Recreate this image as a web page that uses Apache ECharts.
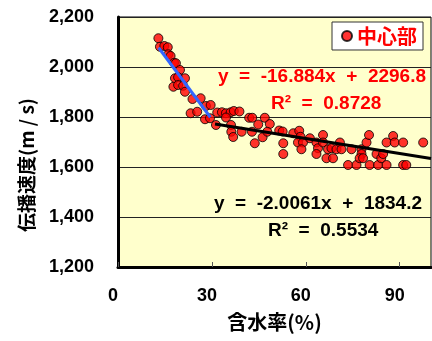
<!DOCTYPE html>
<html>
<head>
<meta charset="utf-8">
<script src="https://cdn.jsdelivr.net/npm/echarts@6/dist/echarts.min.js"></script>
<style>
  html, body { margin: 0; padding: 0; background: #fff; }
  #chart { width: 432px; height: 341px; }
</style>
</head>
<body>
<div id="chart"></div>
<script>
// measured points: [含水率 %, 伝播速度 m/s]
const centerPoints = [
  [12.9, 2115], [13.4, 2081], [14.8, 2084], [15.9, 2079], [16.1, 2051], [16.8, 2044],
  [17.9, 2017], [18.5, 2015], [19.8, 1988], [18.2, 1955], [19.2, 1959], [21.4, 1955],
  [17.7, 1921], [19.2, 1928], [20.8, 1925], [21.4, 1901], [23.8, 1872], [26.4, 1875],
  [28.1, 1844], [29.6, 1848], [23.2, 1815], [25.3, 1821], [27.8, 1791], [29.4, 1795],
  [31.3, 1768], [31.7, 1818], [33.2, 1819], [34.5, 1815], [36.0, 1819], [37.0, 1824],
  [38.8, 1822], [34.5, 1798], [36.1, 1768], [36.2, 1741], [36.8, 1720], [39.5, 1741],
  [41.9, 1797], [42.9, 1797], [44.8, 1770], [46.9, 1797], [48.5, 1772], [42.8, 1741],
  [46.2, 1719], [43.7, 1695], [47.7, 1741], [51.5, 1746], [52.6, 1742], [52.8, 1695],
  [52.8, 1652], [56.0, 1735], [57.9, 1745], [58.3, 1721], [57.5, 1698], [59.1, 1698],
  [58.6, 1671], [61.3, 1715], [63.4, 1698], [63.9, 1675], [63.4, 1652], [65.5, 1728],
  [65.5, 1698], [66.6, 1635], [67.1, 1671], [68.2, 1675], [68.7, 1635], [69.8, 1671],
  [70.9, 1698], [71.4, 1671], [73.5, 1608], [74.6, 1671], [76.2, 1608], [77.8, 1671],
  [77.8, 1652], [77.2, 1635], [78.3, 1635], [79.4, 1698], [80.2, 1728], [80.4, 1608],
  [82.6, 1652], [83.1, 1608], [84.1, 1635], [84.7, 1652], [85.8, 1608], [85.8, 1698],
  [87.9, 1724], [88.4, 1698], [91.1, 1698], [91.1, 1608], [92.1, 1608], [97.5, 1698]
];
// trend lines
const steepTrend = [[13.0, 2077], [29.5, 1799]];
const flatTrend = [[31.0, 1772], [100, 1634]];

const xTicks = [0, 30, 60, 90];
const yTicks = [1200, 1400, 1600, 1800, 2000, 2200];
const seriesName = "中心部";
const xName = "含水率(%)";
const yName = "伝播速度(m / s)";
const eq1 = ["y  =  -16.884x  +  2296.8", "R²  =  0.8728"];
const eq2 = ["y  =  -2.0061x  +  1834.2", "R²  =  0.5534"];

const chart = echarts.init(document.getElementById("chart"));
const font = "Liberation Sans, Arial, sans-serif";
const jpFont = "Noto Sans CJK JP, sans-serif";

const option = {
  animation: false,
  backgroundColor: "#fff",
  grid: {
    left: 118, top: 17, right: 1, bottom: 74,
    show: true, backgroundColor: "#FFFFCC", borderColor: "#000", borderWidth: 1
  },
  legend: {
    data: [seriesName],
    right: 9, top: 22,
    backgroundColor: "#fff",
    borderColor: "#333", borderWidth: 1,
    padding: [4, 6, 4, 9],
    itemWidth: 10, itemHeight: 10, itemGap: 6,
    icon: "circle",
    textStyle: { color: "#FF0000", fontSize: 20, fontWeight: "bold", fontFamily: jpFont }
  },
  xAxis: {
    type: "value",
    min: xTicks[0], max: 100, interval: 30,
    name: xName, nameLocation: "middle", nameGap: 45,
    nameTextStyle: { fontSize: 20, fontWeight: "bold", color: "#000", fontFamily: jpFont },
    axisLine: { lineStyle: { color: "#000", width: 3 } },
    axisTick: { inside: true, length: 5, lineStyle: { color: "#555" } },
    axisLabel: {
      margin: 20, fontSize: 18, fontWeight: "bold", color: "#000", fontFamily: font,
      showMaxLabel: false, padding: [0, 10, 0, 0]
    },
    splitLine: { show: false }
  },
  yAxis: {
    type: "value",
    min: yTicks[0], max: yTicks[yTicks.length - 1], interval: 200,
    name: yName, nameLocation: "middle", nameGap: 82,
    nameTextStyle: {
      fontSize: 19, fontWeight: "bold", color: "#000", fontFamily: jpFont,
      padding: [0, 46, 0, 0]
    },
    axisLine: { lineStyle: { color: "#000", width: 3 } },
    axisTick: { show: false },
    axisLabel: {
      margin: 24, fontSize: 18, fontWeight: "bold", color: "#000", fontFamily: font,
      formatter: (v) => v.toLocaleString("en-US")
    },
    splitLine: { lineStyle: { color: "#222", width: 1 } }
  },
  series: [
    {
      name: seriesName,
      type: "scatter",
      data: centerPoints,
      symbolSize: 9,
      itemStyle: { color: "#FF0000", borderColor: "#000", borderWidth: 1 },
      z: 3
    },
    {
      name: "trend1",
      type: "line",
      data: steepTrend,
      symbol: "none",
      lineStyle: { color: "#3366FF", width: 3 },
      z: 4
    },
    {
      name: "trend2",
      type: "line",
      data: flatTrend,
      symbol: "none",
      lineStyle: { color: "#000", width: 3 },
      z: 4
    }
  ],
  graphic: [
    { type: "text", right: 6, top: 67,
      style: { text: eq1[0], fill: "#FF0000", font: "bold 19px " + font } },
    { type: "text", left: 271, top: 94,
      style: { text: eq1[1], fill: "#FF0000", font: "bold 19px " + font } },
    { type: "text", right: 10, top: 194,
      style: { text: eq2[0], fill: "#000", font: "bold 19px " + font } },
    { type: "text", left: 268, top: 221,
      style: { text: eq2[1], fill: "#000", font: "bold 19px " + font } }
  ]
};

chart.setOption(option);
</script>
</body>
</html>
